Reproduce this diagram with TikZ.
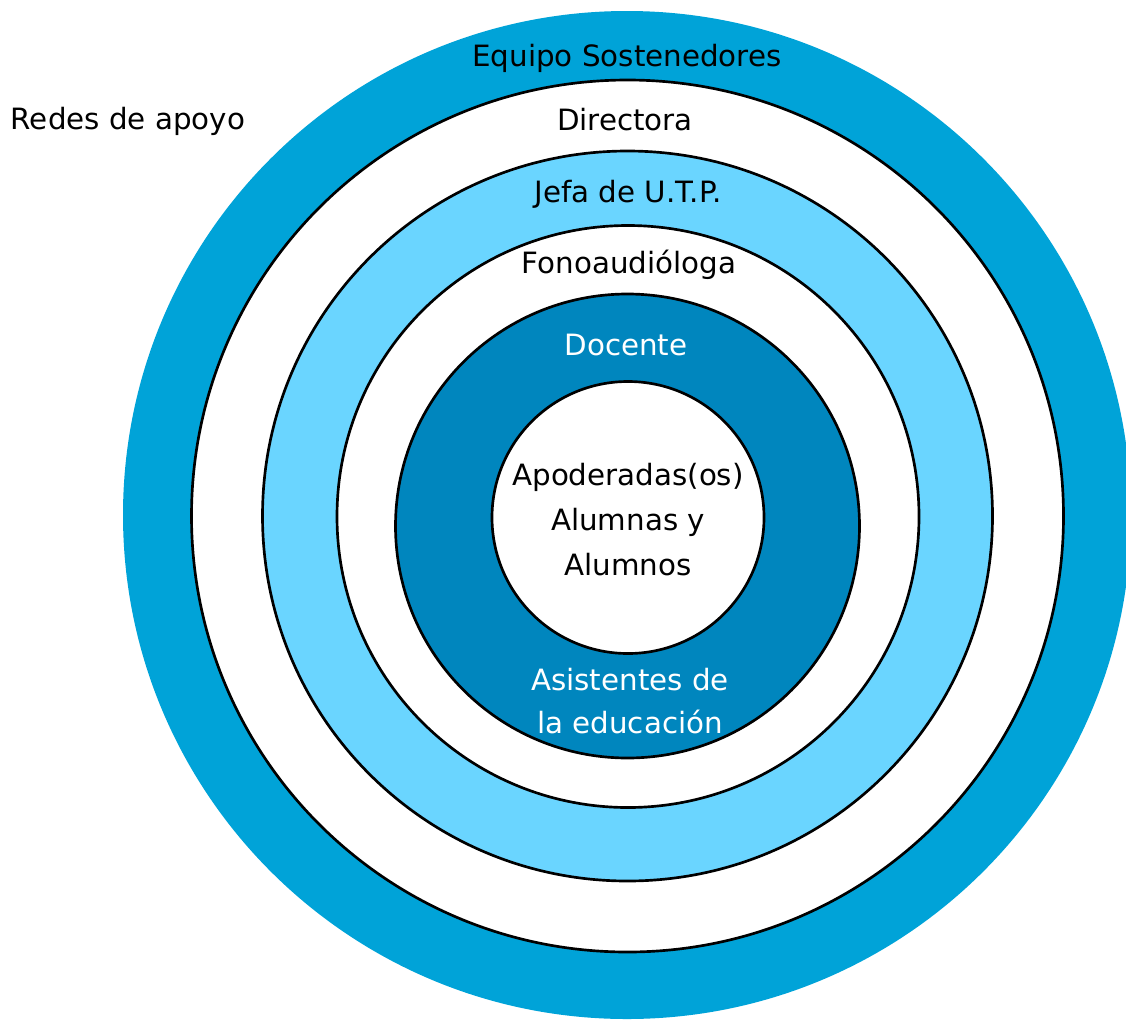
\documentclass[tikz,border=0pt]{standalone}
\usepackage{fontspec}
\setmainfont{DejaVu Sans}
\definecolor{outerblue}{RGB}{0,163,216}
\definecolor{lightblue}{RGB}{106,213,255}
\definecolor{darkblue}{RGB}{0,134,190}
\begin{document}
\begin{tikzpicture}[x=0.75pt,y=-0.75pt,
  ring/.style={draw=black,line width=2pt},
  lbl/.style={anchor=base,inner sep=0pt,font=\fontsize{22}{33.75}\selectfont,align=center},
  wlbl/.style={lbl,text=white}]
\useasboundingbox (0,0) rectangle (1126,1021);
\clip (0,0) rectangle (1126,1021);
\fill[outerblue] (627,515) circle[radius=504];
\filldraw[ring,fill=white] (627.5,516) circle[radius=436];
\filldraw[ring,fill=lightblue] (627.5,516) circle[radius=365];
\filldraw[ring,fill=white] (628,516.5) circle[radius=291];
\filldraw[ring,fill=darkblue] (627.5,526) circle[radius=232];
\filldraw[ring,fill=white] (628,517.5) circle[radius=136];
\node[lbl] (sost) at (627,66) {Equipo Sostenedores};
\node[lbl] (redes) at (128,129) {Redes de apoyo};
\node[lbl] (dir) at (625,130) {Directora};
\node[lbl] (utp) at (628,202) {Jefa de U.T.P.};
\node[lbl] (fono) at (629,273) {Fonoaudióloga};
\node[wlbl] (doc) at (626,355) {Docente};
\node[lbl] (apo) at (628,575) {Apoderadas(os)\\Alumnas y\\Alumnos};
\node[wlbl,font=\fontsize{22}{32.25}\selectfont] (asis) at (630,733) {Asistentes de\\la educación};
\end{tikzpicture}
\end{document}
